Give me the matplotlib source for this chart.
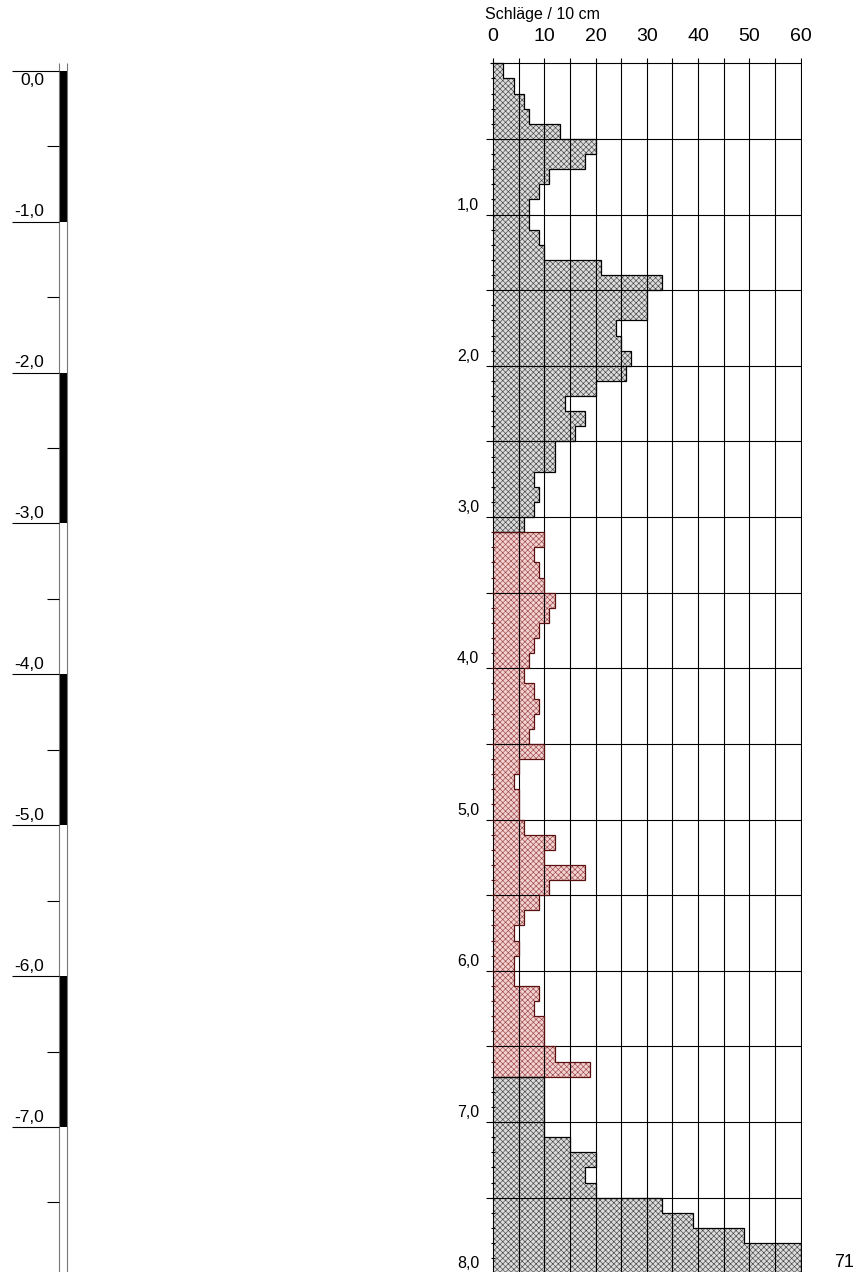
import numpy as np
import matplotlib
matplotlib.use("Agg")
import matplotlib.pyplot as plt

# Rammsondierung: Schlaege je 10 cm, Tiefe 0,0 - 8,0 m
depth_top = np.round(np.arange(0, 8.0, 0.1), 1)
blows = [2, 4, 6, 7, 13, 20, 18, 11, 9, 7,
         7, 9, 10, 21, 33, 30, 30, 24, 25, 27,
         26, 20, 14, 18, 16, 12, 12, 8, 9, 8,
         6, 10, 8, 9, 10, 12, 11, 9, 8, 7,
         6, 8, 9, 8, 7, 10, 5, 4, 5, 5,
         6, 12, 10, 18, 11, 9, 6, 4, 5, 4,
         4, 9, 8, 10, 10, 12, 19, 10, 10, 10,
         10, 15, 20, 18, 20, 33, 39, 49, 60, 71]
# Schichtbereiche (rot markiert von 3,1 bis 6,7 m)
layers = [(0.0, 3.1, "grau"), (3.1, 6.7, "rot"), (6.7, 8.0, "grau")]
x_ticks = [0, 10, 20, 30, 40, 50, 60]
x_grid = [0, 5, 10, 15, 20, 25, 30, 35, 40, 45, 50, 55, 60]
depth_labels = [1.0, 2.0, 3.0, 4.0, 5.0, 6.0, 7.0, 8.0]
depth_grid = np.arange(0, 8.01, 0.5)
scale_levels = [0, -1, -2, -3, -4, -5, -6, -7]
scale_half = [-0.5, -1.5, -2.5, -3.5, -4.5, -5.5, -6.5, -7.5]
XMAX = 60

styles = {"grau": dict(face="#dcdcdc", hatch="#454545", line="black"),
          "rot": dict(face="#f4d2d2", hatch="#9a4848", line="#5a1010")}

plt.rcParams['font.family'] = ['Liberation Sans', 'DejaVu Sans']
plt.rcParams['hatch.linewidth'] = 0.45

W, H = 859, 1272
fig = plt.figure(figsize=(W / 100, H / 100), dpi=100)

# ---- main diagram, pixel mapping: x = 493 + 5.128*v, y = 63.3 + 151.25*d
x0, xs = 493.0, 307.7 / 60
y0, ys = 63.3, 151.25
xl = (-1.5, 60.3)
yl = (8.0, -0.04)
left = (x0 + xl[0] * xs) / W
width = (xl[1] - xl[0]) * xs / W
top_px = y0 + yl[1] * ys
bot_px = y0 + yl[0] * ys
ax = fig.add_axes([left, (H - bot_px) / H, width, (bot_px - top_px) / H])
ax.set_xlim(*xl)
ax.set_ylim(*yl)
for s in ax.spines.values():
    s.set_visible(False)

blows = np.array(blows)
shown = np.minimum(blows, XMAX)
for a, b, kind in layers:
    st = styles[kind]
    m = (depth_top >= a - 1e-9) & (depth_top < b - 1e-9)
    ax.barh(depth_top[m], shown[m], height=0.1, align="edge",
            facecolor=st["face"], edgecolor=st["hatch"], hatch="xxxxxx",
            linewidth=0, zorder=1)
    edges = np.append(depth_top[m], depth_top[m][-1] + 0.1)
    ax.stairs(shown[m], edges, orientation="horizontal", baseline=0,
              fill=False, color=st["line"], lw=0.9, zorder=3)
    # kleine Markierungen an der Nulllinie
    ax.hlines(depth_top[m], -0.4, 0.3, color=st["line"], lw=0.8, zorder=3)

ax.vlines(x_grid, -0.035, 8.0, color="black", lw=0.8, zorder=2)
ax.hlines(depth_grid[1:], -1.4, XMAX, color="black", lw=0.8, zorder=2)
ax.hlines([0], -0.6, XMAX, color="black", lw=0.8, zorder=2)

for d in depth_labels:
    ax.text(-2.7, d - 0.012, f"{d:.1f}".replace(".", ","), ha="right",
            va="bottom", fontsize=11.5)

over = blows > XMAX
for d, v in zip(depth_top[over], blows[over]):
    ax.text(68.5, d + 0.03, f"{v}", ha="center", va="center", fontsize=13)

ax.set_xticks(x_ticks)
ax.set_yticks([])
ax.xaxis.tick_top()
ax.tick_params(axis="x", length=0, pad=8.5, labelsize=14)
fig.text(485 / W, 1 - 15 / H, "Schläge / 10 cm", ha="left", va="center",
         fontsize=11.5)

# ---- left depth scale, x in pixels, y in metres (0 at 70.7 px, 150.9 px/m)
sy0, sys_ = 70.7, 150.9
ax2 = fig.add_axes([0, 0, 110 / W, 1])
ax2.set_xlim(0, 110)
ax2.set_ylim(-(H - sy0) / sys_, sy0 / sys_)
ax2.axis("off")
ax2.vlines([59.3, 66.7], -(H - sy0) / sys_, 0.05, color="#777777", lw=0.8)
for lv in scale_levels[::2]:
    ax2.fill_betweenx([lv - 1, lv], 59.3, 66.7, color="black", lw=0)
ax2.hlines(scale_levels, 11.7, 59.3, color="black", lw=0.8)
ax2.hlines(scale_half, 47.3, 59.3, color="black", lw=0.8)
for lv in scale_levels:
    lab = f"{lv:.1f}".replace(".", ",")
    if lv == 0:
        ax2.text(44, lv - 0.015, "0,0", ha="right", va="top", fontsize=12.5)
    else:
        ax2.text(44, lv + 0.015, lab, ha="right", va="bottom", fontsize=12.5)

fig.savefig("out.png", dpi=100)
